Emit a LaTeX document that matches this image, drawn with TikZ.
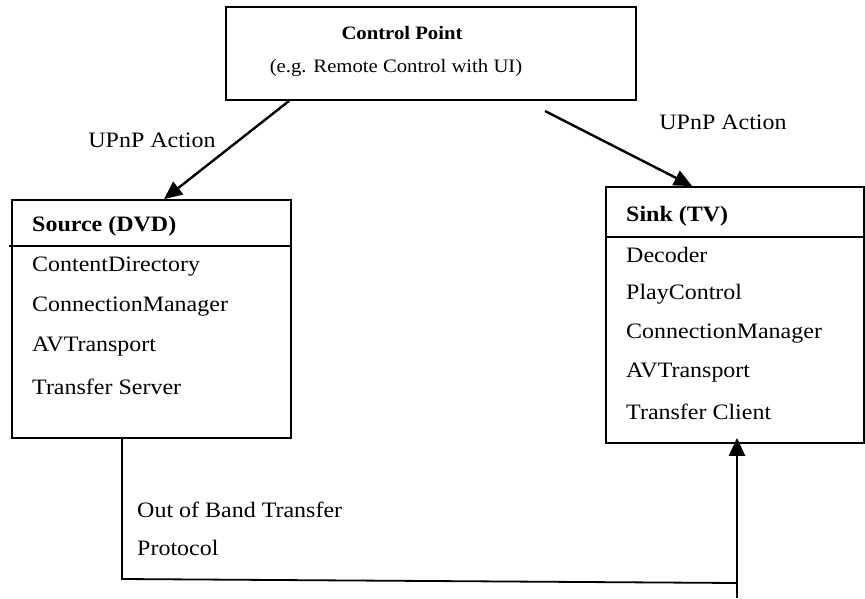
\documentclass[tikz,border=0pt]{standalone}
\usepackage{fontspec}
\setmainfont[FakeStretch=1.09]{Liberation Serif}
\usetikzlibrary{arrows.meta,positioning}
\begin{document}
\begin{tikzpicture}[x=1pt,y=-1pt,
  box/.style={draw,line width=1.8pt,rectangle,inner sep=0pt},
  txt/.style={inner sep=0pt,anchor=west,font=\fontsize{22}{26}\selectfont},
  ctxt/.style={inner sep=0pt,font=\fontsize{19}{22}\selectfont},
  arr/.style={line width=2.4pt,-{Triangle[length=18pt,width=16pt]}},
  wire/.style={line width=1.8pt}]
\useasboundingbox (0,0) rectangle (865,598);
% Control point
\node[box,minimum width=410pt,minimum height=93pt] (cp) at (431,53.5) {};
\node[ctxt,font=\fontsize{19}{22}\selectfont\bfseries] (cpt) at (402,33) {Control Point};
\node[ctxt] (cps) at (396,68) {(e.g. Remote Control with UI)};
% Source
\node[box,minimum width=279pt,minimum height=238pt] (src) at (151.5,319) {};
\draw[wire] (9,246) -- (src.east |- 0,246);
\node[txt,font=\fontsize{22}{26}\selectfont\bfseries] (s0) at (32,226) {Source (DVD)};
\node[txt] (s1) at (32,267) {ContentDirectory};
\node[txt] (s2) at (32,307) {ConnectionManager};
\node[txt] (s3) at (32,347) {AVTransport};
\node[txt] (s4) at (32,387) {Transfer Server};
% Sink
\node[box,minimum width=258pt,minimum height=256pt] (snk) at (735,315) {};
\draw[wire] (snk.west |- 0,237) -- (snk.east |- 0,237);
\node[txt,font=\fontsize{22}{26}\selectfont\bfseries] (k0) at (626,216) {Sink (TV)};
\node[txt] (k1) at (626,255) {Decoder};
\node[txt] (k2) at (626,294) {PlayControl};
\node[txt] (k3) at (626,334) {ConnectionManager};
\node[txt] (k4) at (626,373) {AVTransport};
\node[txt] (k5) at (626,412) {Transfer Client};
% labels
\node[txt,anchor=center] (l1) at (152,140) {UPnP Action};
\node[txt,anchor=center] (l2) at (723,122) {UPnP Action};
\node[txt] (l3) at (137,510) {Out of Band Transfer};
\node[txt] (l4) at (137,548) {Protocol};
% arrows
\draw[arr] ([xshift=64pt]cp.south west) -- ([xshift=153pt]src.north west);
\coordinate (a2) at (545,111);
\draw[arr] (a2) -- ([xshift=87pt]snk.north west);
% bottom transfer
\coordinate (b1) at (122,579);
\coordinate (b2) at (737,583);
\coordinate (b3) at (737,598);
\draw[wire] (src.south -| b1) -- (b1) -- (b2);
\draw[arr] (b3) -- ([yshift=6pt]snk.south -| b3);
\end{tikzpicture}
\end{document}
